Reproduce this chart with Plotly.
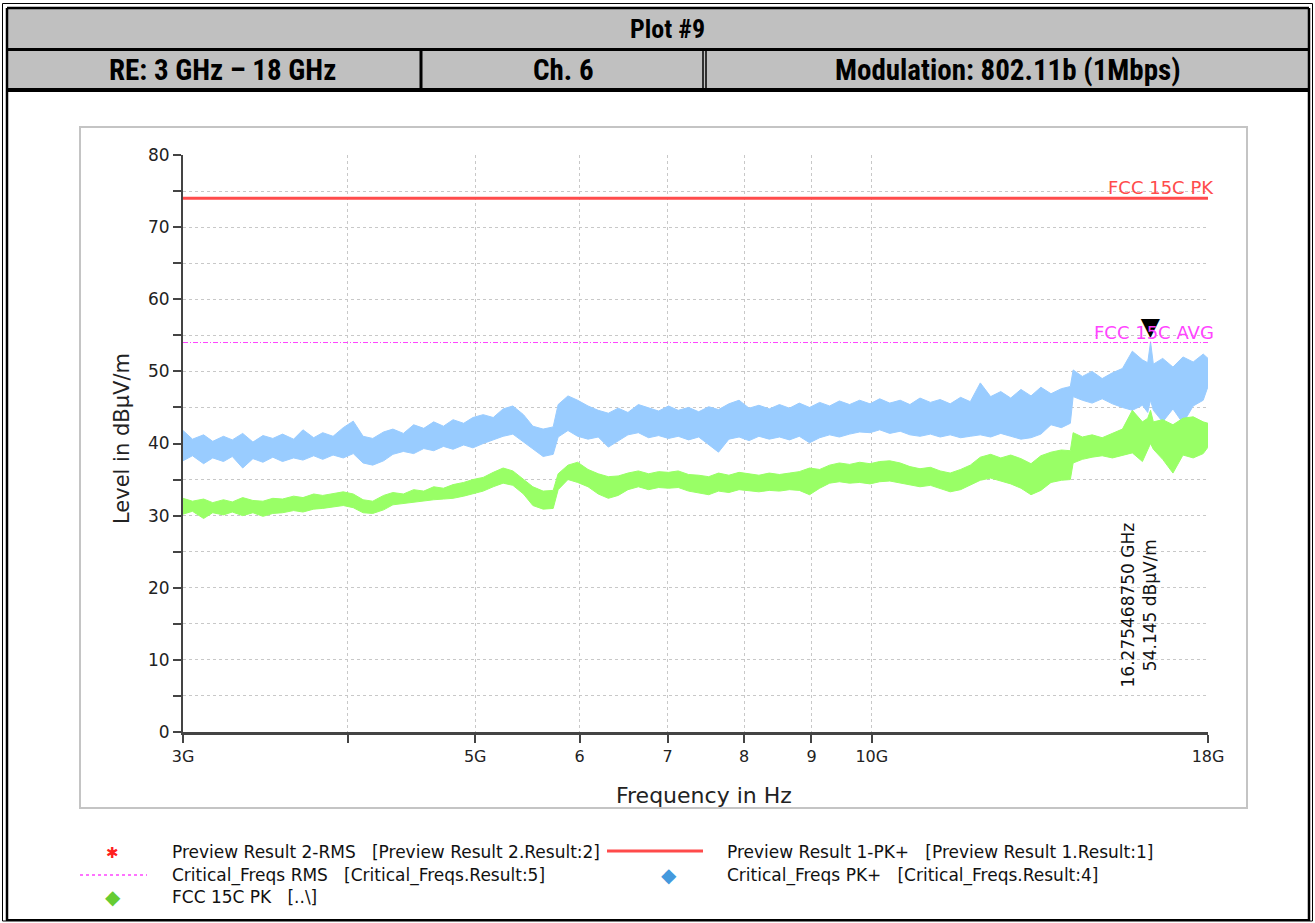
import math
import plotly.graph_objects as go

W, H = 1315, 923

# ---------------- data ----------------
freq_ghz = [3.00, 3.05, 3.11, 3.16, 3.22, 3.27, 3.33, 3.39, 3.45, 3.51,
            3.57, 3.64, 3.70, 3.77, 3.83, 3.90, 3.97, 4.04, 4.11, 4.18,
            4.26, 4.33, 4.41, 4.49, 4.57, 4.65, 4.73, 4.81, 4.90, 4.98,
            5.07, 5.16, 5.25, 5.34, 5.44, 5.53, 5.63, 5.73, 5.78, 5.88,
            5.98, 6.09, 6.20, 6.31, 6.42, 6.53, 6.65, 6.77, 6.89, 7.01,
            7.13, 7.26, 7.39, 7.52, 7.65, 7.79, 7.93, 8.07, 8.21, 8.36,
            8.51, 8.66, 8.81, 8.97, 9.13, 9.29, 9.45, 9.62, 9.79, 9.97,
            10.14, 10.32, 10.51, 10.69, 10.88, 11.08, 11.27, 11.47, 11.68, 11.88,
            12.09, 12.31, 12.53, 12.75, 12.98, 13.21, 13.44, 13.68, 13.93, 14.15,
            14.22, 14.45, 14.70, 14.96, 15.23, 15.50, 15.77, 16.05, 16.20, 16.28,
            16.36, 16.63, 16.93, 17.23, 17.54, 17.85, 18.00]

pk_high = [41.8, 40.6, 41.2, 40.3, 41.0, 40.5, 41.4, 40.2, 41.1, 40.7,
           41.3, 40.6, 41.9, 40.8, 41.5, 41.0, 42.2, 43.1, 41.0, 40.7,
           41.6, 42.0, 41.4, 42.6, 42.1, 43.0, 42.4, 43.3, 42.8, 43.6,
           44.0, 43.6, 44.8, 45.2, 44.0, 42.4, 42.0, 42.3, 45.4, 46.6,
           46.0, 45.2, 44.6, 44.2, 44.9, 44.3, 45.4, 45.0, 44.5, 45.2,
           44.6, 45.0, 44.4, 45.1, 44.7, 45.5, 46.0, 44.9, 45.3, 44.8,
           45.4, 44.9, 45.6, 45.0, 45.7, 45.2, 45.9, 45.4, 46.0, 45.5,
           46.2, 45.6, 46.0, 45.4, 46.3, 45.7, 46.1, 45.5, 46.4, 45.8,
           48.4, 46.5, 47.2, 46.3, 47.5, 46.6, 47.8, 46.9, 47.6, 47.9,
           50.2, 49.3, 50.0, 49.0, 49.8, 50.4, 52.8, 51.6, 51.2, 54.1,
           51.0, 51.8, 50.6, 52.0, 51.3, 52.4, 51.8]

pk_low = [37.6, 38.3, 37.2, 38.0, 37.5, 38.2, 36.6, 37.9, 37.4, 38.1,
          37.5, 38.0, 37.7, 38.3, 37.8, 38.4, 38.0, 38.6, 37.3, 37.0,
          37.6, 38.5, 38.9, 38.6, 39.3, 39.0, 39.6, 39.2, 39.8, 39.4,
          40.0, 40.5, 41.0, 41.3, 40.2, 39.3, 38.2, 38.5, 40.9, 41.8,
          41.0, 40.6, 40.9, 39.5, 40.3, 41.2, 41.5, 40.8, 41.1, 40.7,
          41.0, 40.5, 40.9, 39.8, 38.8, 40.6, 40.9, 40.4, 41.0, 40.6,
          40.9, 40.5, 41.0, 40.1, 40.8, 41.2, 40.9, 41.3, 41.6, 41.5,
          41.9, 41.4, 41.7, 41.2, 41.0, 41.3, 40.9, 41.2, 40.8, 41.0,
          41.2, 40.9, 41.4, 41.0, 40.6, 40.8, 41.3, 42.6, 42.2, 42.8,
          46.5, 46.0, 45.6, 46.2, 45.5, 45.0, 44.6, 45.3, 44.3, 46.0,
          44.6, 43.0, 44.8, 42.8, 45.2, 46.0, 47.9]

rms_high = [32.4, 32.0, 32.3, 31.8, 32.2, 31.9, 32.5, 32.1, 32.0, 32.4,
            32.3, 32.7, 32.5, 33.0, 32.8, 33.1, 33.3, 33.0, 32.2, 32.0,
            32.8, 33.2, 33.0, 33.6, 33.4, 34.0, 33.8, 34.3, 34.6, 35.0,
            35.3, 36.0, 36.6, 36.2, 35.0, 34.0, 33.4, 33.5, 35.8, 37.0,
            37.4, 36.4, 35.8, 35.4, 35.5, 35.9, 36.2, 35.8, 36.1, 36.0,
            36.2, 35.7, 35.6, 35.4, 35.9, 35.6, 36.0, 35.8, 35.6, 35.9,
            35.7, 35.9, 36.1, 36.6, 36.4, 37.0, 37.3, 37.1, 37.4, 37.2,
            37.5, 37.6, 37.3, 36.8, 36.5, 36.7, 36.2, 35.9, 36.4, 37.0,
            38.1, 38.5, 38.0, 38.4, 37.9, 37.2, 38.3, 38.8, 39.1, 39.0,
            41.5, 40.9, 41.2, 40.8, 41.4, 42.0, 44.6, 43.0, 43.5, 44.6,
            43.0, 43.3, 42.6, 43.5, 43.7, 43.0, 42.8]

rms_low = [30.2, 30.6, 29.6, 30.4, 30.1, 30.5, 30.0, 30.4, 29.9, 30.3,
           30.4, 30.7, 30.5, 30.9, 31.0, 31.2, 31.4, 31.1, 30.4, 30.3,
           30.8, 31.5, 31.7, 31.9, 32.0, 32.2, 32.3, 32.4, 32.7, 33.0,
           33.4, 34.0, 34.5, 34.2, 33.0, 31.4, 30.9, 31.0, 33.6, 35.0,
           34.6, 34.0, 33.0, 32.4, 32.8, 33.6, 34.0, 33.6, 33.9, 33.8,
           33.9, 33.4, 33.2, 32.9, 33.4, 33.2, 33.6, 33.4, 33.3, 33.5,
           33.4, 33.6, 33.5, 32.9, 33.8, 34.5, 34.7, 34.5, 34.6, 34.4,
           34.7, 34.8, 34.5, 34.2, 34.0, 34.2, 33.8, 33.3, 33.6, 34.2,
           34.9, 35.2, 34.8, 34.4, 33.8, 32.9, 33.5, 34.6, 34.9, 35.0,
           37.3, 37.8, 38.1, 38.3, 38.0, 38.4, 38.7, 37.5, 39.0, 40.0,
           39.2, 37.8, 35.9, 38.4, 38.0, 38.6, 39.5]

limit_span_ghz = [3.0, 18.0]
limit_pk = 74.0
limit_avg = 54.0
limit_pk_label = "FCC 15C PK"
limit_avg_label = "FCC 15C AVG"

crit_freq_ghz = 16.275468750
crit_level = 54.145

tick_freq_ghz = [3, 4, 5, 6, 7, 8, 9, 10, 18]
tick_labels = ["3G", "", "5G", "6", "7", "8", "9", "10G", "18G"]

header_title = "Plot #9"
header_cells = ["RE: 3 GHz – 18 GHz", "Ch. 6", "Modulation: 802.11b (1Mbps)"]

legend_items = [
    "Preview Result 2-RMS\u00a0\u00a0\u00a0[Preview Result 2.Result:2]",
    "Preview Result 1-PK+\u00a0\u00a0\u00a0[Preview Result 1.Result:1]",
    "Critical_Freqs RMS\u00a0\u00a0\u00a0[Critical_Freqs.Result:5]",
    "Critical_Freqs PK+\u00a0\u00a0\u00a0[Critical_Freqs.Result:4]",
    "FCC 15C PK\u00a0\u00a0\u00a0[..\\]",
]

# ---------------- helpers ----------------
def PX(x):
    return x / W

def PY(y):
    return 1 - y / H

hz = [f * 1e9 for f in freq_ghz]
FONT = "DejaVu Sans, Verdana, sans-serif"
NARROW = "Liberation Sans Narrow, Arial Narrow, Roboto Condensed, Liberation Sans, Arial, sans-serif"

BLUE = "#99ccff"
GREEN = "#99ff66"
RED = "#ff4b4b"
MAGENTA = "#ff44ff"
DASHDOT = "5px,2px,1px,2px"

fig = go.Figure()

# PK+ band
fig.add_trace(go.Scatter(x=hz, y=pk_low, mode="lines", line=dict(color=BLUE, width=1),
                         showlegend=False, hoverinfo="skip"))
fig.add_trace(go.Scatter(x=hz, y=pk_high, mode="lines", line=dict(color=BLUE, width=1),
                         fill="tonexty", fillcolor=BLUE, showlegend=False, hoverinfo="skip"))
# RMS band
fig.add_trace(go.Scatter(x=hz, y=rms_low, mode="lines", line=dict(color=GREEN, width=1),
                         showlegend=False, hoverinfo="skip"))
fig.add_trace(go.Scatter(x=hz, y=rms_high, mode="lines", line=dict(color=GREEN, width=1),
                         fill="tonexty", fillcolor=GREEN, showlegend=False, hoverinfo="skip"))

# limit lines
lim_x = [f * 1e9 for f in limit_span_ghz]
fig.add_trace(go.Scatter(x=lim_x, y=[limit_pk, limit_pk], mode="lines",
                         line=dict(color=RED, width=3), showlegend=False, hoverinfo="skip"))
fig.add_trace(go.Scatter(x=lim_x, y=[limit_avg, limit_avg], mode="lines",
                         line=dict(color=MAGENTA, width=1, dash=DASHDOT),
                         showlegend=False, hoverinfo="skip"))

# critical frequency marker (tip of the triangle sits on the measured point)
fig.add_trace(go.Scatter(x=[crit_freq_ghz * 1e9], y=[crit_level], mode="text",
                         text=["▼"], textposition="top center",
                         textfont=dict(family=FONT, size=25, color="black"),
                         showlegend=False, hoverinfo="skip"))

annotations = []

def ann(x, y, text, size, color, family=FONT, xanchor="center", yanchor="middle", **kw):
    annotations.append(dict(x=x, y=y, xref="paper", yref="paper", text=text,
                            showarrow=False, xanchor=xanchor, yanchor=yanchor,
                            font=dict(family=family, size=size, color=color), **kw))

# limit labels
annotations.append(dict(x=math.log10(lim_x[1]), y=limit_pk, xref="x", yref="y",
                        text=limit_pk_label, showarrow=False, xanchor="right", yanchor="bottom",
                        xshift=8, yshift=-2, font=dict(family=FONT, size=18, color=RED)))
annotations.append(dict(x=math.log10(lim_x[1]), y=limit_avg, xref="x", yref="y",
                        text=limit_avg_label, showarrow=False, xanchor="right", yanchor="bottom",
                        xshift=8, yshift=-2, font=dict(family=FONT, size=18, color=MAGENTA)))
# rotated marker text
annotations.append(dict(x=math.log10(crit_freq_ghz * 1e9), y=17.6, xref="x", yref="y",
                        text=f"{crit_freq_ghz:.9f} GHz<br>{crit_level:.3f} dBµV/m",
                        showarrow=False, textangle=-90, xshift=-11,
                        xanchor="center", yanchor="middle",
                        font=dict(family=FONT, size=17, color="#111")))
# axis titles
ann(PX(122), PY(438), "Level in dBµV/m", 21, "#222", textangle=-90)
ann(PX(704), PY(795), "Frequency in Hz", 22, "#222")
# header
ann(PX(667), PY(29), f"<b>{header_title}</b>", 26, "black", family=NARROW)
for cx, txt in zip([222, 563, 1008], header_cells):
    ann(PX(cx), PY(70), f"<b>{txt}</b>", 29, "black", family=NARROW)

# legend texts
leg_pos = [(170, 852), (725, 852), (170, 875), (725, 875), (170, 897)]
for (lx, ly), txt in zip(leg_pos, legend_items):
    ann(PX(lx), PY(ly), txt, 17, "#111", xanchor="left")
# legend symbols
ann(PX(113), PY(853), "✱", 15, "#ff2020")
ann(PX(669), PY(875), "◆", 20, "#4499dd")
ann(PX(113), PY(897), "◆", 20, "#66cc33")

shapes = []
def rect(x0, y0, x1, y1, **kw):
    shapes.append(dict(type="rect", xref="paper", yref="paper",
                       x0=PX(x0), y0=PY(y1), x1=PX(x1), y1=PY(y0), **kw))

def line(x0, y0, x1, y1, color="black", width=1, dash="solid"):
    shapes.append(dict(type="line", xref="paper", yref="paper",
                       x0=PX(x0), y0=PY(y0), x1=PX(x1), y1=PY(y1),
                       line=dict(color=color, width=width, dash=dash)))

# header gray rows
rect(8, 9, 1308, 48, fillcolor="#c0c0c0", line=dict(width=0), layer="below")
rect(8, 51, 1308, 88, fillcolor="#c0c0c0", line=dict(width=0), layer="below")
# outer double border
rect(2.5, 3.5, 1312.5, 921, line=dict(color="black", width=1))
line(7, 8, 7, 921, width=2.5)
line(1309, 8, 1309, 921, width=2.5)
line(7, 8, 1309, 8, width=2.5)
line(7, 920, 1309, 920, width=2)
line(7, 49.5, 1309, 49.5, width=3)
line(7, 90, 1309, 90, width=4)
line(421, 49, 421, 90, width=3)
line(703, 49, 703, 90, width=1.5)
line(706, 49, 706, 90, width=1.5)
# chart panel
rect(80, 127, 1247, 808, line=dict(color="#c4c4c4", width=2), layer="below")
# legend line symbols
line(607, 851, 703, 851, color=RED, width=3)
line(80, 875, 147, 875, color=MAGENTA, width=1.5, dash="dot")

fig.update_layout(
    width=W, height=H,
    margin=dict(l=0, r=0, t=0, b=0, pad=0, autoexpand=False),
    paper_bgcolor="white", plot_bgcolor="white",
    showlegend=False,
    shapes=shapes, annotations=annotations,
    xaxis=dict(domain=[PX(183), PX(1208)], type="log",
               range=[math.log10(3e9), math.log10(18e9)],
               tickvals=[t * 1e9 for t in tick_freq_ghz], ticktext=tick_labels,
               ticks="outside", ticklen=8, tickcolor="#444", tickwidth=1.5,
               showline=True, linecolor="#444", linewidth=3,
               showgrid=True, gridcolor="#c8c8c8", griddash="dot", gridwidth=1,
               zeroline=False, automargin=False,
               tickfont=dict(family=FONT, size=16, color="#222")),
    yaxis=dict(domain=[PY(732), PY(155)], range=[0, 80], dtick=10,
               ticks="outside", ticklen=8, tickcolor="#444", tickwidth=1.5,
               showline=True, linecolor="#444", linewidth=2,
               showgrid=True, gridcolor="#c8c8c8", griddash="dot", gridwidth=1,
               zeroline=False, automargin=False,
               minor=dict(dtick=5, ticks="outside", ticklen=8, tickcolor="#444",
                          showgrid=True, gridcolor="#c8c8c8", griddash="dot"),
               tickfont=dict(family=FONT, size=17, color="#222")),
)

fig.write_html("out.html", config={"displayModeBar": False},
               post_script="document.body.style.margin='0px';document.body.style.overflow='hidden';")
